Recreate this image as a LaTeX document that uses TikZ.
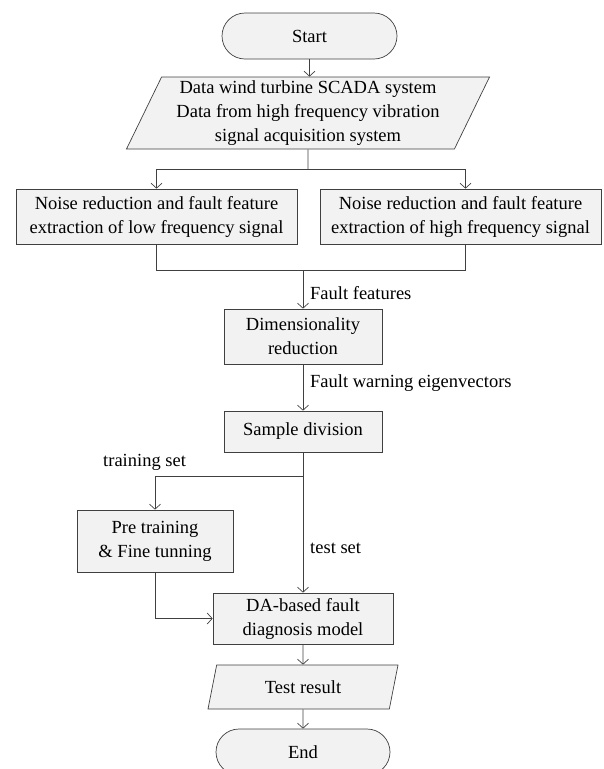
\documentclass[tikz,border=0pt]{standalone}
\usepackage{fontspec}
\setmainfont{Liberation Serif}
\usetikzlibrary{shapes.geometric,arrows.meta}
\tikzset{
    txt/.style={font=\fontsize{18.5}{24}\selectfont},
    box/.style={txt,draw=black!75,fill=black!5,line width=0.7pt,align=center,inner sep=2pt},
    term/.style={box,rounded corners=23pt,minimum width=175pt,minimum height=46pt},
    io/.style={box,trapezium,trapezium left angle=63,trapezium right angle=117,trapezium stretches body},
    lbl/.style={txt,anchor=west,inner sep=2pt},
    flow/.style={draw=black!75,line width=0.7pt,-{Straight Barb[length=5pt,width=11pt]}},
    line/.style={draw=black!75,line width=0.7pt}
}
\begin{document}
\begin{tikzpicture}[x=1pt,y=-1pt]
    \useasboundingbox (0,0) rectangle (603,769);
    \node[term] (start) at (309.5,36) {Start};
    \node[io,minimum width=363pt,minimum height=72pt] (data) at (308,113) {Data wind turbine SCADA system\\Data from high frequency vibration\\signal acquisition system};
    \node[box,minimum width=281pt,minimum height=55pt] (low) at (156.5,216.5) {Noise reduction and fault feature\\extraction of low frequency signal};
    \node[box,minimum width=281pt,minimum height=55pt] (high) at (460.5,216.5) {Noise reduction and fault feature\\extraction of high frequency signal};
    \node[box,minimum width=158pt,minimum height=55pt] (dim) at (303,336.5) {Dimensionality\\reduction};
    \node[box,minimum width=158pt,minimum height=41pt] (sample) at (303,431.5) {Sample division};
    \node[box,minimum width=156pt,minimum height=62pt] (pre) at (155,541) {Pre training\\\& Fine tunning};
    \node[box,minimum width=180pt,minimum height=51pt] (da) at (303,618.5) {DA-based fault\\diagnosis model};
    \node[io,minimum width=190pt,minimum height=44pt] (result) at (303,687) {Test result};
    \node[term,minimum width=174pt] (end) at (303,752) {End};
    \coordinate (split) at (308,169);
    \coordinate (merge) at (303,270);
    \coordinate (branch) at (303,476);
    \node[lbl] (ff) at (308,293) {Fault features};
    \node[lbl] (fwe) at (308,383) {Fault warning eigenvectors};
    \node[lbl] (train) at (101,462) {training set};
    \node[lbl] (test) at (308,548) {test set};
    \draw[flow] (start.south) -- (start.south |- data.north);
    \draw[line] (data.south) -- (split);
    \draw[flow] (split) -| (low.north);
    \draw[flow] (split) -| ([xshift=5pt]high.north);
    \draw[line] (low.south) |- (merge);
    \draw[line] ([xshift=5pt]high.south) |- (merge);
    \draw[flow] (merge) -- (dim.north);
    \draw[flow] (dim) -- (sample);
    \draw[line] (sample) -- (branch);
    \draw[flow] (branch) -| (pre.north);
    \draw[flow] (branch) -- (da.north);
    \draw[flow] (pre.south) |- (da.west);
    \draw[flow] (da) -- (result);
    \draw[flow] (result) -- (end);
\end{tikzpicture}
\end{document}
